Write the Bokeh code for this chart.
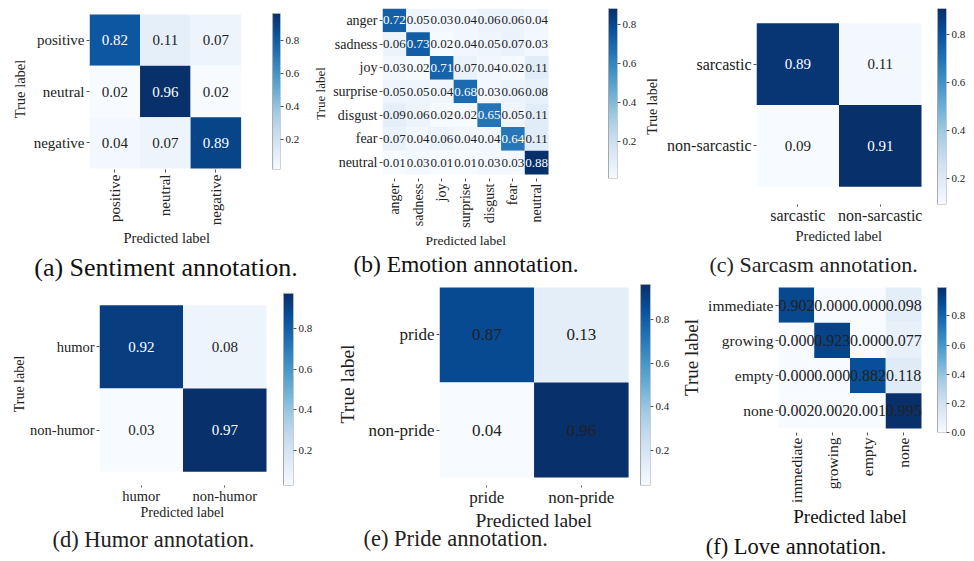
import numpy as np
from bokeh.plotting import figure
from bokeh.models import (ColumnDataSource, LinearColorMapper, FixedTicker, Range1d,
                          LinearAxis, Title, PrintfTickFormatter, Div, Spacer)
from bokeh.core.properties import value
from bokeh.layouts import row, column
from bokeh.embed import file_html
from bokeh.resources import INLINE

# ---------------- data ----------------
sentiment_labels = ["positive", "neutral", "negative"]
sentiment_matrix = [[0.82, 0.11, 0.07],
                    [0.02, 0.96, 0.02],
                    [0.04, 0.07, 0.89]]

emotion_labels = ["anger", "sadness", "joy", "surprise", "disgust", "fear", "neutral"]
emotion_matrix = [[0.72, 0.05, 0.03, 0.04, 0.06, 0.06, 0.04],
                  [0.06, 0.73, 0.02, 0.04, 0.05, 0.07, 0.03],
                  [0.03, 0.02, 0.71, 0.07, 0.04, 0.02, 0.11],
                  [0.05, 0.05, 0.04, 0.68, 0.03, 0.06, 0.08],
                  [0.09, 0.06, 0.02, 0.02, 0.65, 0.05, 0.11],
                  [0.07, 0.04, 0.06, 0.04, 0.04, 0.64, 0.11],
                  [0.01, 0.03, 0.01, 0.01, 0.03, 0.03, 0.88]]

sarcasm_labels = ["sarcastic", "non-sarcastic"]
sarcasm_matrix = [[0.89, 0.11],
                  [0.09, 0.91]]

humor_labels = ["humor", "non-humor"]
humor_matrix = [[0.92, 0.08],
                [0.03, 0.97]]

pride_labels = ["pride", "non-pride"]
pride_matrix = [[0.87, 0.13],
                [0.04, 0.96]]

love_labels = ["immediate", "growing", "empty", "none"]
love_matrix = [[0.902, 0.000, 0.000, 0.098],
               [0.000, 0.923, 0.000, 0.077],
               [0.000, 0.000, 0.882, 0.118],
               [0.002, 0.002, 0.001, 0.995]]

cbar_ticks = [0.2, 0.4, 0.6, 0.8]
cbar_ticks_love = [0.0, 0.2, 0.4, 0.6, 0.8]

x_title = "Predicted label"
y_title = "True label"
captions = ["(a) Sentiment annotation.", "(b) Emotion annotation.", "(c) Sarcasm annotation.",
            "(d) Humor annotation.", "(e) Pride annotation.", "(f) Love annotation."]

# ---------------- style ----------------
FONT = "Liberation Serif"
DARK = "#222222"
stops = ['#f7fbff', '#deebf7', '#c6dbef', '#9ecae1', '#6baed6',
         '#4292c6', '#2171b5', '#08519c', '#08306b']
rgb = np.array([[int(s[i:i + 2], 16) for i in (1, 3, 5)] for s in stops], dtype=float)
pos = np.linspace(0, 1, len(stops))
PAL = ['#%02x%02x%02x' % tuple(int(round(np.interp(t, pos, rgb[:, k]))) for k in range(3))
       for t in np.linspace(0, 1, 256)]


def make_panel(labels, matrix, ticks, g, titles):
    n = len(labels)
    hl, ht, hr, hb = g["heat"]          # heatmap box (px inside the layout)
    cl, ct, cr, cbt = g["cb"]           # colour bar box
    fx, fy, W, B = g["fig"]             # figure x, y, width, common bottom border
    fl, fr, ft, fb = hl, cr, fy, max(hb, cbt)
    H = fb - fy + B
    fw, fh, hw, hh = fr - fl, fb - ft, hr - hl, hb - ht

    vals = np.array(matrix, dtype=float)
    lo, hi = float(vals.min()), float(vals.max())
    mapper = LinearColorMapper(palette=PAL, low=lo, high=hi)

    xs, ys, vs, ts, cs = [], [], [], [], []
    for i, tl in enumerate(labels):
        for j, pl in enumerate(labels):
            v = matrix[i][j]
            xs.append(j); ys.append(n - 1 - i); vs.append(v)
            ts.append(g["fmt"].format(v))
            cs.append("white" if (g["white"] and v > 0.5) else DARK)
    src = ColumnDataSource(dict(x=xs, y=ys, v=vs, t=ts, c=cs))

    kk = (hi - lo) / (cbt - ct)
    p = figure(width=W, height=H,
               x_range=Range1d(-0.5, -0.5 + n * fw / hw),
               y_range=Range1d(-0.5 - (fb - hb) * n / hh, n - 0.5 + (ht - ft) * n / hh),
               output_backend="svg", toolbar_location=None, tools="",
               min_border_left=fl - fx, min_border_top=0,
               min_border_right=fx + W - fr, min_border_bottom=B)
    p.extra_x_ranges = {"cbx": Range1d(0, fw)}
    p.extra_y_ranges = {"cb": Range1d(lo - (fb - cbt) * kk, hi + (ct - ft) * kk)}
    p.grid.visible = False
    p.outline_line_color = None
    p.background_fill_color = None
    p.border_fill_color = None

    p.rect(x="x", y="y", width=1, height=1, source=src,
           fill_color={"field": "v", "transform": mapper}, line_color=None)
    p.text(x="x", y="y", text="t", source=src, text_align="center", text_baseline="middle",
           text_font=value(FONT), text_font_size=g["cell"], text_color="c")

    # colour bar: gradient between data min and max, with its own axis
    grad = np.linspace(lo, hi, 256).reshape(256, 1)
    p.image(image=[grad], x=cl - fl, y=lo, dw=cr - cl, dh=hi - lo, color_mapper=mapper,
            x_range_name="cbx", y_range_name="cb")
    p.quad(left=cl - fl, right=cr - fl, bottom=lo, top=hi, x_range_name="cbx",
           y_range_name="cb", fill_color=None, line_color="#a8a8a8", line_width=1)

    xa, ya = p.xaxis[0], p.yaxis[0]
    for ax in (xa, ya):
        ax.axis_line_color = None
        ax.minor_tick_line_color = None
        ax.major_tick_line_color = "#555555"
        ax.major_label_text_font = FONT
        ax.major_label_text_font_size = g["tick"]
        ax.major_label_text_color = DARK
    xa.ticker = FixedTicker(ticks=list(range(n)))
    xa.major_label_overrides = {j: lab for j, lab in enumerate(labels)}
    ya.ticker = FixedTicker(ticks=list(range(n)))
    ya.major_label_overrides = {n - 1 - i: lab for i, lab in enumerate(labels)}
    ya.major_tick_out = 3
    ya.major_tick_in = 0
    ya.major_label_standoff = 2
    ya.axis_label = y_title
    ya.axis_label_text_font = FONT
    ya.axis_label_text_font_style = "normal"
    ya.axis_label_text_color = DARK
    ya.axis_label_text_font_size = g["ylab"]
    ya.axis_label_standoff = g["ystand"]
    if g["rot"]:
        xa.major_label_orientation = np.pi / 2
        xa.major_tick_out = 3
        xa.major_label_standoff = 2
    else:
        xa.major_tick_out = 2
        xa.major_label_standoff = 0
    xa.major_tick_in = 0

    ca = LinearAxis(y_range_name="cb", ticker=FixedTicker(ticks=ticks),
                    formatter=PrintfTickFormatter(format="%.1f"),
                    axis_line_color=None, minor_tick_line_color=None,
                    major_tick_in=0, major_tick_out=3, major_tick_line_color="#555555",
                    major_label_standoff=2, major_label_text_font=FONT,
                    major_label_text_font_size="11px", major_label_text_color=DARK)
    p.add_layout(ca, "right")

    # titles stacked under the x axis: (text, size, offset from frame left, standoff)
    for text, size, off, stand in titles:
        p.add_layout(Title(text=text, align="left", offset=off, standoff=stand,
                           text_font=FONT, text_font_size=size, text_font_style="normal",
                           text_color=DARK), "below")
    return p


def text_box(width, height, items):
    # items: (text, font px, line height px, dx, dy) -- centred lines, nudged by dx/dy
    html = "".join(
        f'<div style="position:relative;left:{dx}px;top:{dy}px;width:{width}px;'
        f'height:{lh}px;line-height:{lh}px;text-align:center;white-space:nowrap;'
        f'font-family:\'{FONT}\';font-size:{fs}px;color:#111111;">{t}</div>'
        for t, fs, lh, dx, dy in items)
    return Div(text=html, width=width, height=height, margin=0)


B1, B2 = 76, 73
# geometry (px inside the layout): fig=(x, y, width, bottom border); heat / cb = (l, t, r, b)
g_a = dict(fig=(0, 0, 296, B1), heat=(78, 6, 232, 160), cb=(264, 5, 272, 161),
           fmt="{:.2f}", white=True, cell="15px", tick="15px", ylab="14.5px", ystand=3,
           rot=True)
g_b = dict(fig=(296, 0, 336, B1), heat=(374, 0, 540, 166), cb=(600, 0, 609, 170),
           fmt="{:.2f}", white=True, cell="13px", tick="14px", ylab="13px", ystand=2,
           rot=True)
g_c = dict(fig=(632, 0, 330, B1), heat=(748, 15, 913, 180), cb=(929, 0, 938, 198),
           fmt="{:.2f}", white=True, cell="15px", tick="16px", ylab="14px", ystand=4,
           rot=False)
g_d = dict(fig=(0, 274, 326, B2), heat=(91, 297, 258, 465), cb=(275, 285, 285, 479),
           fmt="{:.2f}", white=True, cell="15px", tick="14.5px", ylab="14px", ystand=0,
           rot=False)
g_e = dict(fig=(326, 274, 340, B2), heat=(430, 279, 620, 471), cb=(632, 276, 642, 479),
           fmt="{:.2f}", white=False, cell="17px", tick="17px", ylab="19.5px", ystand=7,
           rot=False)
g_f = dict(fig=(666, 274, 294, B2), heat=(770, 279, 913, 420), cb=(929, 279, 938, 424),
           fmt="{:.3f}", white=False, cell="16px", tick="15.5px", ylab="19px", ystand=3,
           rot=True)

pa = make_panel(sentiment_labels, sentiment_matrix, cbar_ticks, g_a,
                [(x_title, "14.5px", 34, -2)])
pb = make_panel(emotion_labels, emotion_matrix, cbar_ticks, g_b,
                [(x_title, "13.5px", 43, 1)])
pc = make_panel(sarcasm_labels, sarcasm_matrix, cbar_ticks, g_c,
                [(x_title, "14.5px", 39, -1), (captions[2], "22px", -47, 12)])
pd_ = make_panel(humor_labels, humor_matrix, cbar_ticks, g_d,
                 [(x_title, "14px", 41, -7), (captions[3], "22.5px", -47, 17)])
pe = make_panel(pride_labels, pride_matrix, cbar_ticks, g_e,
                [(x_title, "19.5px", 36, -4), (captions[4], "22.5px", -76, -10)])
pf = make_panel(love_labels, love_matrix, cbar_ticks_love, g_f, [])

cap_a = text_box(296, 37, [(captions[0], 26, 30, 10, 8)])
cap_b = text_box(336, 28, [(captions[1], 23.5, 27, -6, -3)])
cap_f = text_box(294, 55, [(x_title, 19, 22, 29, 1), (captions[5], 22.5, 26, -25, 7)])

top_half = row(column(pa, cap_a, spacing=0), column(pb, cap_b, spacing=0), pc, spacing=0)
bottom_half = row(pd_, pe, column(pf, cap_f, spacing=0), spacing=0)
body = column(top_half, bottom_half, spacing=0)
layout = column(Spacer(width=8, height=8),
                row(Spacer(width=8, height=8), body, spacing=0), spacing=0)
open("out.html", "w").write(file_html(layout, INLINE))
